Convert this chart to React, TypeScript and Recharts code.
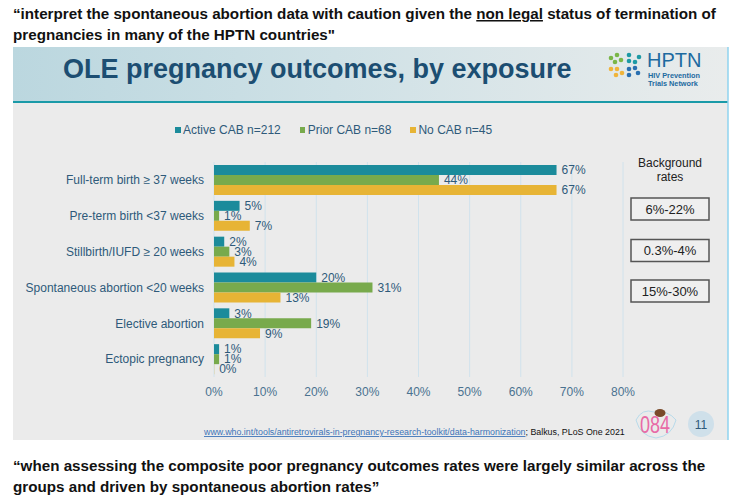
import { BarChart, Bar, XAxis, YAxis, CartesianGrid, Legend, LabelList } from "recharts";

const categories = [
  "Full-term birth ≥ 37 weeks",
  "Pre-term birth <37 weeks",
  "Stillbirth/IUFD ≥ 20 weeks",
  "Spontaneous abortion <20 weeks",
  "Elective abortion",
  "Ectopic pregnancy",
];
const activeCab = [67, 5, 2, 20, 3, 1];
const priorCab = [44, 1, 3, 31, 19, 1];
const noCab = [67, 7, 4, 13, 9, 0];
const xTicks = [0, 10, 20, 30, 40, 50, 60, 70, 80];
const seriesNames = ["Active CAB n=212", "Prior CAB n=68", "No CAB n=45"];
const backgroundRates = ["6%-22%", "0.3%-4%", "15%-30%"];

const data = categories.map((name, i) => ({
  name,
  active: activeCab[i],
  prior: priorCab[i],
  none: noCab[i],
}));

const FONT = "'Liberation Sans', Arial, Helvetica, sans-serif";
const TEAL = "#1b8b9b";
const GREEN = "#78aa4c";
const YELLOW = "#e7b435";
const LABEL = "#2e5a7a";

const pct = (v: any) => `${v}%`;

function renderLegend(props: any) {
  const items = [...(props.payload || [])].sort(
    (a: any, b: any) => seriesNames.indexOf(a.value) - seriesNames.indexOf(b.value)
  );
  return (
    <div style={{ display: "flex", fontSize: 12, color: LABEL, fontFamily: FONT, lineHeight: "14px" }}>
      {items.map((p: any, i: number) => (
        <div key={i} style={{ display: "flex", alignItems: "center", marginRight: 19 }}>
          <span style={{ display: "inline-block", width: 5.5, height: 5.5, background: p.color, marginRight: 2.5 }} />
          <span>{p.value}</span>
        </div>
      ))}
    </div>
  );
}

function Slide() {
  return (
    <svg width={747} height={501} style={{ position: "absolute", left: 0, top: 0 }}>
      <defs>
        <linearGradient id="hdr" x1="0" y1="0" x2="1" y2="0">
          <stop offset="0" stopColor="#bbd7df" />
          <stop offset="0.45" stopColor="#cfe1e6" />
          <stop offset="1" stopColor="#e9ecec" />
        </linearGradient>
      </defs>
      <g fontFamily={FONT} fontWeight="bold" fontSize={15.2} fill="#111">
        <text x={13} y={19}>
          “interpret the spontaneous abortion data with caution given the{" "}
          <tspan textDecoration="underline">non legal</tspan> status of termination of
        </text>
        <text x={13} y={40}>pregnancies in many of the HPTN countries"</text>
        <text x={13} y={471}>
          “when assessing the composite poor pregnancy outcomes rates were largely similar across the
        </text>
        <text x={13} y={492}>groups and driven by spontaneous abortion rates”</text>
      </g>
      <rect x={13} y={47} width={715} height={393} fill="#ebebeb" />
      <rect x={13} y={47} width={715} height={54} fill="url(#hdr)" />
      <rect x={13} y={101} width={715} height={2} fill="#1a9aa8" />
      <line x1={728} y1={47} x2={728} y2={440} stroke="#8fd3ef" strokeWidth={1.5} />
      <text x={63} y={78} fontFamily={FONT} fontWeight="bold" fontSize={27} fill="#1c4e72">
        OLE pregnancy outcomes, by exposure
      </text>
      {/* HPTN logo */}
      <g>
        <circle cx={611} cy={58} r={2.3} fill="#7ab648" />
        <circle cx={617} cy={55} r={2.3} fill="#7ab648" />
        <circle cx={615} cy={62} r={2.3} fill="#7ab648" />
        <circle cx={621} cy={60} r={2.3} fill="#7ab648" />
        <circle cx={629} cy={55} r={2.3} fill="#1d9aa5" />
        <circle cx={629} cy={61} r={2.3} fill="#1d9aa5" />
        <circle cx={635} cy={62} r={2.3} fill="#1d9aa5" />
        <circle cx={639} cy={57} r={2.3} fill="#1d9aa5" />
        <circle cx={611} cy={69} r={2.3} fill="#f0b43a" />
        <circle cx={617} cy={69} r={2.3} fill="#f0b43a" />
        <circle cx={616} cy={75} r={2.3} fill="#f0b43a" />
        <circle cx={622} cy={73} r={2.3} fill="#f0b43a" />
        <circle cx={629} cy={69} r={2.3} fill="#2a6fb0" />
        <circle cx={635} cy={68} r={2.3} fill="#2a6fb0" />
        <circle cx={629} cy={75} r={2.3} fill="#2a6fb0" />
        <circle cx={638} cy={73} r={2.3} fill="#2a6fb0" />
        <text x={647} y={67} fontFamily={FONT} fontSize={20} fill="#1d6aa0">HPTN</text>
        <text x={648} y={77.5} fontFamily={FONT} fontWeight="bold" fontSize={7.3} fill="#1d6aa0">HIV Prevention</text>
        <text x={648} y={86} fontFamily={FONT} fontWeight="bold" fontSize={7.3} fill="#1d6aa0">Trials Network</text>
      </g>
      {/* background rates */}
      <g fontFamily={FONT} fill="#222" textAnchor="middle">
        <text x={670} y={167} fontSize={12}>Background</text>
        <text x={670} y={181} fontSize={12}>rates</text>
        {backgroundRates.map((r, i) => {
          const top = [198, 239.5, 280][i];
          return (
            <g key={r}>
              <rect x={631} y={top} width={78} height={22} fill="#efefef" stroke="#555" strokeWidth={1.5} />
              <text x={670} y={top + 15.5} fontSize={13}>{r}</text>
            </g>
          );
        })}
      </g>
      {/* footer */}
      <text x={204} y={435} fontFamily={FONT} fontSize={8.85}>
        <tspan fill="#3d74b8" textDecoration="underline">
          www.who.int/tools/antiretrovirals-in-pregnancy-research-toolkit/data-harmonization
        </tspan>
        <tspan fill="#111">; Balkus, PLoS One 2021</tspan>
      </text>
      <path d="M636 420 q6 -12 18 -8 q14 -2 22 8 q-4 16 -20 18 q-16 -2 -20 -18z" fill="none" stroke="#a9d6ea" strokeWidth={0.8} />
      <ellipse cx={660} cy={413} rx={5.5} ry={4} fill="#7a4a2a" />
      <text x={640} y={433} fontFamily={FONT} fontSize={23} fill="#e86aa6" textLength={30} lengthAdjust="spacingAndGlyphs">
        084
      </text>
      <circle cx={701} cy={424} r={13} fill="#cfe0ea" />
      <text x={701} y={428.5} fontFamily={FONT} fontSize={12} fill={LABEL} textAnchor="middle">11</text>
    </svg>
  );
}

export default function App() {
  return (
    <div style={{ position: "absolute", left: 0, top: 0, width: 747, height: 501, background: "#fff", overflow: "hidden" }}>
      <Slide />
      <div style={{ position: "absolute", left: 0, top: 104 }}>
        <BarChart
          width={747}
          height={303}
          data={data}
          layout="vertical"
          margin={{ top: 44, right: 124, bottom: 0, left: 0 }}
          barSize={10}
          barGap={0}
        >
          <CartesianGrid horizontal={false} stroke="#d0e2ec" strokeWidth={1} />
          <XAxis
            type="number"
            domain={[0, 80]}
            ticks={xTicks}
            tickFormatter={pct}
            axisLine={false}
            tickLine={false}
            tickSize={0}
            tickMargin={10}
            height={30}
            tick={{ fill: "#4a7290", fontSize: 12, fontFamily: FONT }}
          />
          <YAxis
            type="category"
            dataKey="name"
            width={214}
            axisLine={false}
            tickLine={false}
            tickSize={0}
            tickMargin={10}
            tick={{ fill: LABEL, fontSize: 12, fontFamily: FONT }}
          />
          <Legend
            verticalAlign="top"
            content={renderLegend}
            wrapperStyle={{ position: "absolute", top: 19, left: 175, width: 360, height: 14 }}
          />
          <Bar dataKey="active" name={seriesNames[0]} fill={TEAL} minPointSize={0.2} isAnimationActive={false}>
            <LabelList dataKey="active" position="right" offset={5} formatter={pct} fill={LABEL} fontSize={12} fontFamily={FONT} />
          </Bar>
          <Bar dataKey="prior" name={seriesNames[1]} fill={GREEN} minPointSize={0.2} isAnimationActive={false}>
            <LabelList dataKey="prior" position="right" offset={5} formatter={pct} fill={LABEL} fontSize={12} fontFamily={FONT} />
          </Bar>
          <Bar dataKey="none" name={seriesNames[2]} fill={YELLOW} minPointSize={0.2} isAnimationActive={false}>
            <LabelList dataKey="none" position="right" offset={5} formatter={pct} fill={LABEL} fontSize={12} fontFamily={FONT} />
          </Bar>
        </BarChart>
      </div>
    </div>
  );
}
